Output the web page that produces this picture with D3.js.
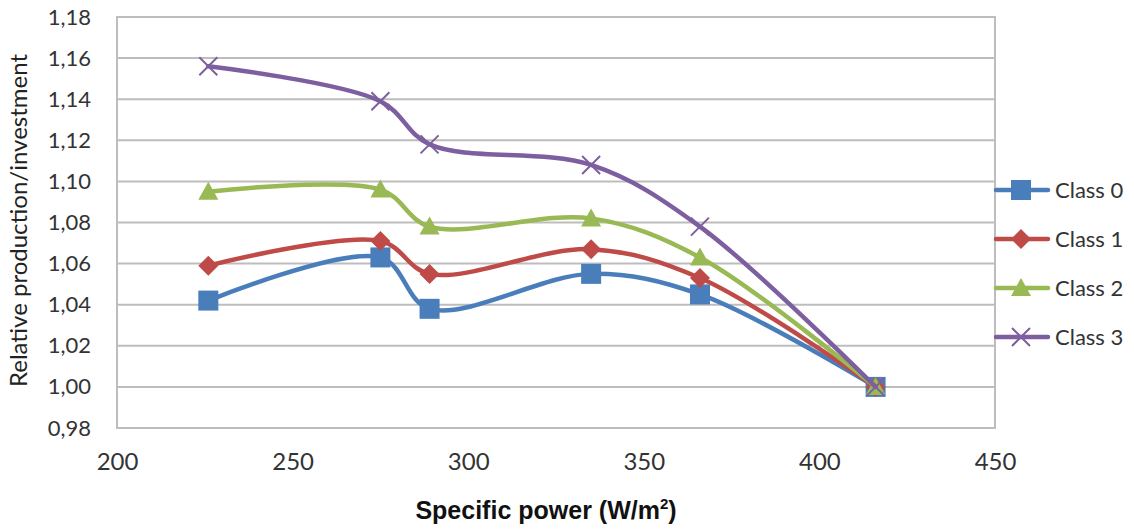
<!DOCTYPE html>
<html><head><meta charset="utf-8">
<script src="https://cdn.jsdelivr.net/npm/d3@7"></script>
<style>body{margin:0;background:#fff}svg{display:block}</style>
</head><body>
<svg id="c" width="1134" height="529"></svg>
<script>
const xValues = [226, 275, 289, 335, 366, 416];
const class0 = [1.042, 1.063, 1.038, 1.055, 1.045, 1.000];
const class1 = [1.059, 1.071, 1.055, 1.067, 1.053, 1.000];
const class2 = [1.095, 1.096, 1.078, 1.082, 1.063, 1.000];
const class3 = [1.156, 1.139, 1.118, 1.108, 1.078, 1.000];
const seriesNames = ["Class 0", "Class 1", "Class 2", "Class 3"];
const xTicks = [200, 250, 300, 350, 400, 450];
const yTicks = [0.98, 1.00, 1.02, 1.04, 1.06, 1.08, 1.10, 1.12, 1.14, 1.16, 1.18];

const colors = ["#4a7ebb", "#be4b48", "#98b954", "#7d5fa0"];
const symbols = ["square", "diamond", "triangle", "x"];
const series = [class0, class1, class2, class3].map((v, i) => ({name: seriesNames[i], values: v, color: colors[i], sym: symbols[i]}));

const svg = d3.select("#c");
const x = d3.scaleLinear().domain([200, 450]).range([117, 995]);
const y = d3.scaleLinear().domain([0.98, 1.18]).range([428, 17]);
const FONT = "Lato, 'Open Sans', sans-serif";

// gridlines
svg.append("g").selectAll("line").data(yTicks).join("line")
  .attr("x1", x(200)).attr("x2", x(450))
  .attr("y1", d => y(d)).attr("y2", d => y(d))
  .attr("stroke", "#bdbdbd").attr("stroke-width", 2);
// border
svg.append("rect").attr("x", x(200)).attr("y", y(1.18)).attr("width", x(450) - x(200)).attr("height", y(0.98) - y(1.18))
  .attr("fill", "none").attr("stroke", "#bdbdbd").attr("stroke-width", 2);

// y tick labels
const fmt = d => d.toFixed(2).replace(".", ",");
svg.append("g").attr("transform", `translate(91,0)`)
  .call(d3.axisLeft(y).tickValues(yTicks).tickFormat(fmt).tickSize(0).tickPadding(0))
  .call(g => g.select(".domain").remove())
  .selectAll("text").attr("font-family", FONT).attr("font-size", 22).attr("fill", "#333");

// x tick labels
svg.append("g").attr("transform", `translate(0,462)`)
  .call(d3.axisBottom(x).tickValues(xTicks).tickFormat(d3.format("d")).tickSize(0).tickPadding(0))
  .call(g => g.select(".domain").remove())
  .selectAll("text").attr("font-family", FONT).attr("font-size", 24).attr("fill", "#333").attr("dy", "0.35em");

// axis titles
svg.append("text").attr("transform", `translate(27,${(y(0.98) + y(1.18)) / 2 - 2}) rotate(-90)`)
  .attr("text-anchor", "middle").attr("font-family", FONT).attr("font-size", 24).attr("fill", "#222")
  .text("Relative production/investment");
const xt = svg.append("text").attr("x", 546).attr("y", 519)
  .attr("text-anchor", "middle").attr("font-family", "'Liberation Sans', Arial, sans-serif")
  .attr("font-weight", "bold").attr("font-size", 25).attr("fill", "#111");
xt.append("tspan").text("Specific power (W/m");
xt.append("tspan").attr("font-size", 15).attr("dy", -10).text("2");
xt.append("tspan").attr("dy", 10).text(")");

const line = d3.line().x(d => x(d[0])).y(d => y(d[1])).curve(d3.curveCatmullRom.alpha(0.5));

function drawMarker(g, sym, color, cx, cy) {
  if (sym === "square") {
    const s = 20;
    g.append("rect").attr("x", cx - s / 2).attr("y", cy - s / 2).attr("width", s).attr("height", s).attr("fill", color);
  } else if (sym === "diamond") {
    const h = 10;
    g.append("path").attr("d", `M${cx},${cy - h}L${cx + h},${cy}L${cx},${cy + h}L${cx - h},${cy}Z`).attr("fill", color);
  } else if (sym === "triangle") {
    const h = 10;
    g.append("path").attr("d", `M${cx},${cy - h}L${cx + h},${cy + h * 0.8}L${cx - h},${cy + h * 0.8}Z`).attr("fill", color);
  } else {
    const h = 9;
    g.append("path").attr("d", `M${cx - h},${cy - h}L${cx + h},${cy + h}M${cx - h},${cy + h}L${cx + h},${cy - h}`)
      .attr("stroke", color).attr("stroke-width", 2).attr("fill", "none");
  }
}

series.forEach(s => {
  const pts = xValues.map((xv, i) => [xv, s.values[i]]);
  svg.append("path").datum(pts).attr("d", line).attr("fill", "none").attr("stroke", s.color)
    .attr("stroke-width", 4.5).attr("stroke-linecap", "round").attr("stroke-linejoin", "round");
  const g = svg.append("g");
  pts.forEach(p => drawMarker(g, s.sym, s.color, x(p[0]), y(p[1])));
});

// legend
const legY = [190, 239, 288, 337];
series.forEach((s, i) => {
  const g = svg.append("g");
  g.append("line").attr("x1", 996).attr("x2", 1048).attr("y1", legY[i]).attr("y2", legY[i])
    .attr("stroke", s.color).attr("stroke-width", 4.5).attr("stroke-linecap", "round");
  drawMarker(g, s.sym, s.color, 1021, legY[i]);
  g.append("text").attr("x", 1055).attr("y", legY[i] + 8).attr("font-family", FONT)
    .attr("font-size", 22).attr("fill", "#333").text(s.name);
});
</script>
</body></html>
